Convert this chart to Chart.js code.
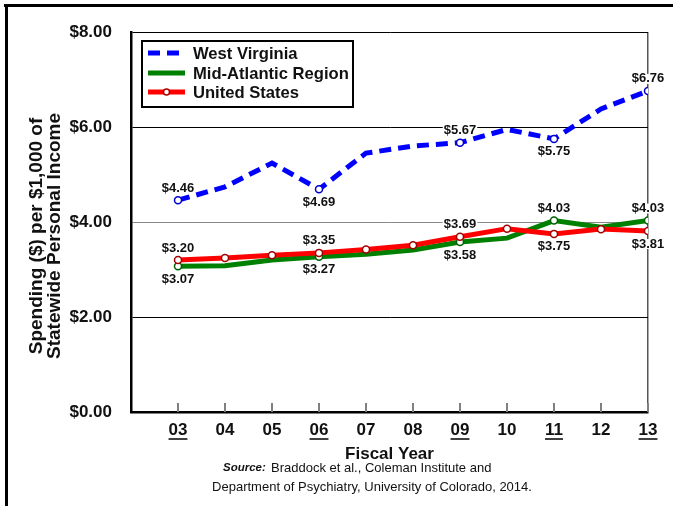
<!DOCTYPE html>
<html>
<head>
<meta charset="utf-8">
<script src="https://cdn.jsdelivr.net/npm/chart.js@4.4.1/dist/chart.umd.min.js"></script>
<style>
  html, body { margin: 0; padding: 0; background: #fff; }
</style>
</head>
<body>
<canvas id="chart-host" width="673" height="506"></canvas>
<script>
// Fiscal years (x) and their tick labels
var years = [3, 4, 5, 6, 7, 8, 9, 10, 11, 12, 13];
var yearLabels = ['03', '04', '05', '06', '07', '08', '09', '10', '11', '12', '13'];
var underlinedYears = [3, 6, 9, 11, 13];

// Spending ($) per $1,000 of statewide personal income
var westVirginia = [4.46, 4.74, 5.24, 4.69, 5.45, 5.60, 5.67, 5.95, 5.75, 6.38, 6.76];
var midAtlantic  = [3.07, 3.08, 3.20, 3.27, 3.32, 3.41, 3.58, 3.66, 4.03, 3.89, 4.03];
var unitedStates = [3.20, 3.24, 3.30, 3.35, 3.42, 3.51, 3.69, 3.86, 3.75, 3.85, 3.81];

// which points carry a value label, and on which side
var wvLabelSide = ['up', null, null, 'down', null, null, 'up', null, 'down', null, 'up'];
var maLabelSide = ['down', null, null, 'down', null, null, 'down', null, 'up', null, 'up'];
var usLabelSide = ['up', null, null, 'up', null, null, 'up', null, 'down', null, 'down'];

var yTitleLines = ['Spending ($) per $1,000 of', 'Statewide Personal Income'];
var sourceBold = 'Source:';
var sourceLines = ['Braddock et al., Coleman Institute and',
                   'Department of Psychiatry, University of Colorado, 2014.'];

var FONT = '"Liberation Sans", Arial, Helvetica, sans-serif';

function toPoints(values) {
    return values.map(function (v, i) { return { x: years[i], y: v }; });
}

function radiusFor(sides) {
    return sides.map(function (s) { return s ? 3.5 : 0; });
}

var decor = {
    id: 'decor',
    beforeDraw: function (chart) {
        var ctx = chart.ctx;
        ctx.save();
        ctx.fillStyle = '#fff';
        ctx.fillRect(0, 0, chart.width, chart.height);
        ctx.restore();
    },
    beforeDatasetsDraw: function (chart) {
        var ctx = chart.ctx;
        var area = chart.chartArea;
        var xs = chart.scales.x;
        ctx.save();
        // small ticks pointing up into the plot
        ctx.strokeStyle = '#808080';
        ctx.lineWidth = 2;
        years.forEach(function (yr) {
            var px = Math.round(xs.getPixelForValue(yr));
            ctx.beginPath();
            ctx.moveTo(px, area.bottom - 9);
            ctx.lineTo(px, area.bottom);
            ctx.stroke();
        });
        // white patches behind value labels (break grid lines)
        ctx.font = 'bold 13px ' + FONT;
        chart.data.datasets.forEach(function (ds, di) {
            var meta = chart.getDatasetMeta(di);
            ds.labelSide.forEach(function (side, i) {
                if (!side) return;
                var pt = meta.data[i];
                var txt = '$' + ds.data[i].y.toFixed(2);
                var w = ctx.measureText(txt).width;
                var cy = side === 'up' ? pt.y - 12 : pt.y + 13;
                ctx.fillStyle = '#fff';
                ctx.fillRect(pt.x - w / 2 - 1, cy - 5, w + 2, 10);
            });
        });
        ctx.restore();
    },
    afterDatasetsDraw: function (chart) {
        var ctx = chart.ctx;
        ctx.save();
        // value labels
        ctx.font = 'bold 13px ' + FONT;
        ctx.fillStyle = '#111';
        ctx.textAlign = 'center';
        ctx.textBaseline = 'middle';
        chart.data.datasets.forEach(function (ds, di) {
            var meta = chart.getDatasetMeta(di);
            ds.labelSide.forEach(function (side, i) {
                if (!side) return;
                var pt = meta.data[i];
                var cy = side === 'up' ? pt.y - 12 : pt.y + 13;
                ctx.fillText('$' + ds.data[i].y.toFixed(2), pt.x, cy);
            });
        });

        // legend box
        ctx.fillStyle = '#fff';
        ctx.fillRect(142, 41, 211, 66);
        ctx.strokeStyle = '#000';
        ctx.lineWidth = 2;
        ctx.strokeRect(142, 41, 211, 66);
        var rows = [53, 73, 92];
        chart.data.datasets.forEach(function (ds, di) {
            var y = rows[di];
            ctx.beginPath();
            ctx.setLineDash(ds.borderDash || []);
            ctx.strokeStyle = ds.borderColor;
            ctx.lineWidth = 5;
            ctx.moveTo(148, y);
            ctx.lineTo(185, y);
            ctx.stroke();
            ctx.setLineDash([]);
            if (ds.legendMarker) {
                ctx.beginPath();
                ctx.arc(166.5, y, 3, 0, Math.PI * 2);
                ctx.fillStyle = '#fff';
                ctx.fill();
                ctx.lineWidth = 1.5;
                ctx.strokeStyle = '#a00';
                ctx.stroke();
            }
            ctx.fillStyle = '#111';
            ctx.font = 'bold 16.6px ' + FONT;
            ctx.textAlign = 'left';
            ctx.textBaseline = 'middle';
            ctx.fillText(ds.label, 193, y + 1);
        });
        ctx.restore();
    },
    afterDraw: function (chart) {
        var ctx = chart.ctx;
        var xs = chart.scales.x;
        ctx.save();
        // outer frame (top and left)
        ctx.fillStyle = '#000';
        ctx.fillRect(4, 4, chart.width - 4, 3);
        ctx.fillRect(5, 4, 3, chart.height - 4);

        // underline some year labels
        ctx.font = 'bold 17px ' + FONT;
        ctx.strokeStyle = '#000';
        ctx.lineWidth = 1.5;
        underlinedYears.forEach(function (yr) {
            var px = xs.getPixelForValue(yr);
            var w = ctx.measureText(yearLabels[years.indexOf(yr)]).width;
            ctx.beginPath();
            ctx.moveTo(px - w / 2, 439);
            ctx.lineTo(px + w / 2, 439);
            ctx.stroke();
        });

        // y axis title, two lines rotated
        ctx.font = 'bold 19px ' + FONT;
        ctx.fillStyle = '#111';
        ctx.textAlign = 'center';
        ctx.textBaseline = 'middle';
        [37, 55].forEach(function (cx, i) {
            ctx.save();
            ctx.translate(cx, 236);
            ctx.rotate(-Math.PI / 2);
            ctx.fillText(yTitleLines[i], 0, 0);
            ctx.restore();
        });

        // source note
        ctx.textBaseline = 'middle';
        ctx.textAlign = 'left';
        ctx.font = 'italic bold 11.5px ' + FONT;
        ctx.fillText(sourceBold, 223, 468);
        ctx.font = '13px ' + FONT;
        ctx.fillText(sourceLines[0], 271, 468);
        ctx.textAlign = 'center';
        ctx.fillText(sourceLines[1], 372, 487);
        ctx.restore();
    }
};

var host = document.getElementById('chart-host');
var chart = new Chart(host, {
    type: 'line',
    data: {
        datasets: [
            {
                label: 'West Virginia',
                data: toPoints(westVirginia),
                borderColor: '#0000ff',
                borderWidth: 5,
                borderDash: [12, 7],
                borderCapStyle: 'butt',
                pointRadius: radiusFor(wvLabelSide),
                pointBackgroundColor: '#fff',
                pointBorderColor: '#0000cc',
                pointBorderWidth: 1.5,
                tension: 0,
                order: 0,
                labelSide: wvLabelSide
            },
            {
                label: 'Mid-Atlantic Region',
                data: toPoints(midAtlantic),
                borderColor: '#008000',
                borderWidth: 5,
                pointRadius: radiusFor(maLabelSide),
                pointBackgroundColor: '#fff',
                pointBorderColor: '#006000',
                pointBorderWidth: 1.5,
                tension: 0,
                order: 2,
                labelSide: maLabelSide
            },
            {
                label: 'United States',
                data: toPoints(unitedStates),
                borderColor: '#ff0000',
                borderWidth: 5,
                pointRadius: 3.5,
                pointBackgroundColor: '#fff',
                pointBorderColor: '#a00000',
                pointBorderWidth: 1.5,
                tension: 0,
                order: 1,
                labelSide: usLabelSide,
                legendMarker: true
            }
        ]
    },
    options: {
        responsive: false,
        animation: false,
        devicePixelRatio: 1,
        layout: { padding: { left: 10, right: 25, top: 32, bottom: 0 } },
        plugins: {
            legend: { display: false },
            tooltip: { enabled: false }
        },
        scales: {
            x: {
                type: 'linear',
                min: 2,
                max: 13,
                afterFit: function (scale) { scale.height = 94; },
                grid: {
                    drawTicks: false,
                    color: function (c) { return c.tick && c.tick.value === 13 ? '#555' : 'rgba(0,0,0,0)'; },
                    lineWidth: 1.5
                },
                border: { color: '#000', width: 2.5 },
                ticks: {
                    stepSize: 1,
                    autoSkip: false,
                    maxRotation: 0,
                    padding: 8,
                    color: '#111',
                    font: { family: FONT, size: 17, weight: 'bold' },
                    callback: function (v) {
                        var i = years.indexOf(v);
                        return i >= 0 ? yearLabels[i] : '';
                    }
                },
                title: {
                    display: true,
                    text: 'Fiscal Year',
                    color: '#111',
                    font: { family: FONT, size: 17, weight: 'bold' },
                    padding: { top: 0, bottom: 41 }
                }
            },
            y: {
                min: 0,
                max: 8,
                afterFit: function (scale) { scale.width = 121; },
                grid: {
                    drawTicks: false,
                    color: function (c) { return c.tick && c.tick.value === 4 ? '#888' : '#000'; },
                    lineWidth: 1
                },
                border: { color: '#000', width: 2.5 },
                ticks: {
                    stepSize: 2,
                    padding: 19,
                    color: '#111',
                    font: { family: FONT, size: 17, weight: 'bold' },
                    callback: function (v) { return '$' + v.toFixed(2); }
                }
            }
        }
    },
    plugins: [decor]
});
</script>
</body>
</html>
